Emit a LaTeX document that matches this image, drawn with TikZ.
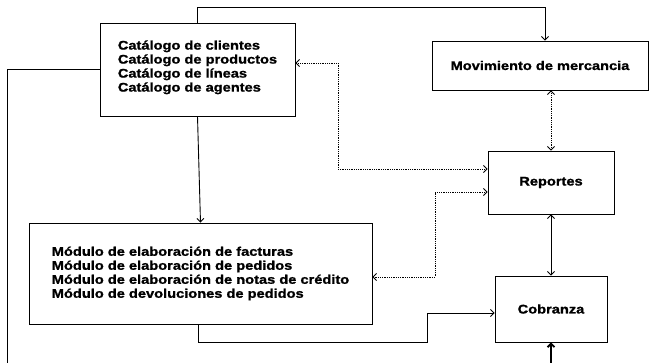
\documentclass[tikz,border=0pt]{standalone}
\usepackage{fontspec}
\setmainfont[FakeStretch=1.17,BoldFeatures={FakeBold=1.2}]{Liberation Sans}
\usetikzlibrary{arrows.meta}
\begin{document}
\begin{tikzpicture}[x=1pt,y=-1pt,
  box/.style={draw,line width=0.9pt,rectangle,inner sep=0pt,align=left,
    font=\fontsize{12.5}{14}\selectfont\bfseries},
  conn/.style={line width=0.9pt},
  dot/.style={line width=0.8pt,densely dotted},
  tip/.style={-{Straight Barb[length=3.5pt,width=7pt]}},
  tips/.style={{Straight Barb[length=3.5pt,width=7pt]}-{Straight Barb[length=3.5pt,width=7pt]}}]
\useasboundingbox (0,0) rectangle (651,363);
\node[box,minimum width=195pt,minimum height=93pt,text depth=7pt] (cat) at (197.5,69.5)
  {Catálogo de clientes\\Catálogo de productos\\Catálogo de líneas\\Catálogo de agentes};
\node[box,minimum width=216pt,minimum height=49pt] (mov) at (540,65.5) {Movimiento de mercancia};
\node[box,minimum width=126pt,minimum height=63pt] (rep) at (551,182.5) {Reportes};
\node[box,minimum width=343pt,minimum height=101pt] (mod) at (200.5,273.5)
  {Módulo de elaboración de facturas\\Módulo de elaboración de pedidos\\Módulo de elaboración de notas de crédito\\Módulo de devoluciones de pedidos};
\node[box,minimum width=112pt,minimum height=66pt] (cob) at (551,309) {Cobranza};
% connector coordinates
\coordinate (t2) at (545,7);
\coordinate (l1) at (7,363);
\coordinate (c1) at (338,63);
\coordinate (c2) at (338,169);
\coordinate (r1) at (435,192);
\coordinate (r2) at (435,277);
\coordinate (m1) at (198,342);
\coordinate (m2) at (427,342);
\coordinate (m3) at (427,313);
\coordinate (b1) at (551,363);
% connectors
\draw[conn,tip] (cat.north) |- (t2) -- (mov.north -| t2);
\draw[conn] (cat.west) -| (l1);
\draw[conn,tip] (cat.south) -- (mod.north);
\draw[dot,tips] (cat.east |- c1) -- (c1) -- (c2) -- (rep.west |- c2);
\draw[dot,tips] (rep.west |- r1) -- (r1) -- (r2) -- (mod.east |- r2);
\draw[dot,tips] (mov.south -| rep.north) -- (rep.north);
\draw[conn,tips] (rep.south) -- (cob.north);
\draw[conn,tip] (mod.south -| m1) -- (m1) -- (m2) -- (m3) -- (cob.west |- m3);
\draw[line width=1.8pt,tip] (b1) -- (cob.south);
\end{tikzpicture}
\end{document}
